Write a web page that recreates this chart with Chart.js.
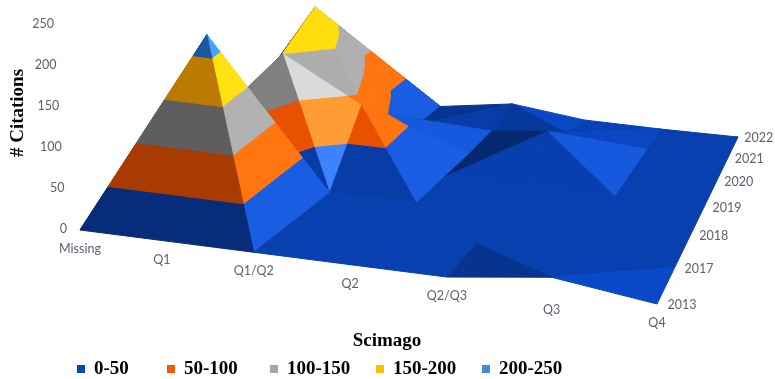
<!DOCTYPE html>
<html>
<head>
<meta charset="utf-8">
<title>Citations by Scimago quartile and year</title>
<script src="https://cdn.jsdelivr.net/npm/chart.js@4/dist/chart.umd.min.js"></script>
<style>
  html, body { margin: 0; background: #fff; }
  #wrap { width: 775px; height: 379px; }
</style>
</head>
<body>
<div id="wrap"><canvas id="surface"></canvas></div>
<script>
const categories = ['Missing', 'Q1', 'Q1/Q2', 'Q2', 'Q2/Q3', 'Q3', 'Q4'];
const years = ['2013', '2017', '2018', '2019', '2020', '2021', '2022'];
const citationTicks = [0, 50, 100, 150, 200, 250];
const bandLabels = ['0-50', '50-100', '100-150', '150-200', '200-250'];
const bandEdges = [0, 50, 100, 150, 200, 250];

// one row per year, one value per category
const row2013 = [0, 0, 0, 0, 0, 15, 0];
const row2017 = [0, 224, 0, 0, 0, 0, 0];
const row2018 = [0, 128, 0, 0, 0, 0, 0];
const row2019 = [0, 150, 88, 0, 0, 0, 0];
const row2020 = [0, 195, 45, 0, 45, 0, 0];
const row2021 = [0, 137, 0, 3, 12, 0, 0];
const row2022 = [0, 78, 0, 16, 2, 0, 0];
const citations = [row2013, row2017, row2018, row2019, row2020, row2021, row2022];

// legend and band colours
const bandRgb = [[8, 64, 176], [244, 85, 0], [135, 135, 135], [270, 175, 0], [40, 125, 225]];
const legendColors = ['#0b46b0', '#f05a00', '#a5a5a5', '#ffc000', '#3a8edc'];
const legendX = [81, 171, 274, 380, 486];

// floor of the plot in perspective: corners Missing/2013, Q4/2013, Q4/2022, Missing/2022
const corners = [[80, 230], [657, 304], [738, 137], [309, 93]];
const catSpacing = [0, 0.153, 0.32, 0.49, 0.656, 0.83, 1];
const unitPx = 0.82, zeroPx = 229;

// brightness of the few faces the light formula gets wrong, key is i,j,triangle
const shadeOverride = {
  '1,2,0': 1.55,
  '1,2,1': 0.95,
  '1,3,1': 1.25
};

function makeFloor() {
  const [a, b, c, d] = corners;
  const sx = a[0] - b[0] + c[0] - d[0], sy = a[1] - b[1] + c[1] - d[1];
  const x1 = b[0] - c[0], y1 = b[1] - c[1], x2 = d[0] - c[0], y2 = d[1] - c[1];
  const det = x1 * y2 - y1 * x2;
  const g = (sx * y2 - sy * x2) / det, h = (x1 * sy - y1 * sx) / det;
  return function(u, v) {
    const w = g * u + h * v + 1;
    return {
      x: ((b[0] - a[0] + g * b[0]) * u + (d[0] - a[0] + h * d[0]) * v + a[0]) / w,
      y: ((b[1] - a[1] + g * b[1]) * u + (d[1] - a[1] + h * d[1]) * v + a[1]) / w,
      w: w
    };
  };
}
const floor = makeFloor();

function project(i, j, z) {
  const p = floor(catSpacing[i], j / (years.length - 1));
  // back to pixel rows, the y scale below is in citation units
  return { x: p.x, y: p.y - z * unitPx / p.w, z: z, i: i, j: j };
}

function lerp(p, q, t) {
  return { x: p.x + (q.x - p.x) * t, y: p.y + (q.y - p.y) * t, z: p.z + (q.z - p.z) * t };
}

function clipBand(tri, lo, hi) {
  let poly = tri;
  [[lo, 1], [hi, -1]].forEach(function(edge) {
    const out = [];
    poly.forEach(function(p, n) {
      const q = poly[(n + 1) % poly.length];
      const dp = (p.z - edge[0]) * edge[1], dq = (q.z - edge[0]) * edge[1];
      if (dp >= 0) out.push(p);
      if ((dp > 0 && dq < 0) || (dp < 0 && dq > 0)) out.push(lerp(p, q, dp / (dp - dq)));
    });
    poly = out;
  });
  return poly;
}

function brightness(tri, key) {
  if (shadeOverride[key] !== undefined) return shadeOverride[key];
  const [p, q, r] = tri;
  const a1 = q.i - p.i, b1 = q.j - p.j, c1 = q.z - p.z;
  const a2 = r.i - p.i, b2 = r.j - p.j, c2 = r.z - p.z;
  const det = a1 * b2 - a2 * b1;
  const gx = (c1 * b2 - c2 * b1) / det, gy = (a1 * c2 - a2 * c1) / det;
  // faces turned to the right catch the light, faces turned left or to the front lose it
  const side = Math.tanh(-gx / 30) * (gx < 0 ? 0.28 : 0.4);
  return 1 + side - 0.3 * Math.pow(gy / 222, 2);
}

function shadeColor(rgb, m) {
  const mix = Math.max(0, (m - 1.15) * 0.5);
  const c = rgb.map(function(v) {
    const lit = Math.min(255, v * m);
    return Math.round(lit + (255 - lit) * mix);
  });
  return 'rgb(' + c.join(',') + ')';
}

// back rows first, so nearer faces paint over them
const faces = [];
for (let j = years.length - 2; j >= 0; j--) {
  for (let i = 0; i < categories.length - 1; i++) {
    const a = project(i, j, citations[j][i]), b = project(i + 1, j, citations[j][i + 1]);
    const c = project(i, j + 1, citations[j + 1][i]), d = project(i + 1, j + 1, citations[j + 1][i + 1]);
    const tris = Math.abs(a.z - d.z) >= Math.abs(b.z - c.z) ? [[a, d, c], [a, b, d]] : [[b, d, c], [a, b, c]];
    tris.forEach(function(tri, t) {
      const m = brightness(tri, i + ',' + j + ',' + t);
      bandLabels.forEach(function(label, n) {
        const poly = clipBand(tri, bandEdges[n], bandEdges[n + 1]);
        if (poly.length > 2) faces.push({ poly: poly, color: shadeColor(bandRgb[n], m) });
      });
    });
  }
}

// chart.js paints the last dataset first
const datasets = faces.map(function(face, n) {
  const pts = face.poly.map(function(p) { return { x: p.x, y: (zeroPx - p.y) / unitPx }; });
  pts.push(pts[0]);
  return {
    data: pts,
    showLine: true,
    fill: 'shape',
    backgroundColor: face.color,
    borderColor: face.color,
    borderWidth: 1,
    pointRadius: 0,
    order: faces.length - n
  };
});

const labelColor = '#5b6173';
const labelFont = '12.5px Lato, "Open Sans", sans-serif';

const axisText = {
  id: 'axisText',
  afterDatasetsDraw(chart) {
    const { ctx, scales } = chart;
    ctx.save();
    ctx.fillStyle = labelColor;
    ctx.font = labelFont;
    ctx.textBaseline = 'middle';
    ctx.textAlign = 'right';
    citationTicks.forEach(function(v) {
      ctx.fillText(String(v), 67 - v * 0.052, scales.y.getPixelForValue(v));
    });
    ctx.textAlign = 'center';
    categories.forEach(function(name, i) {
      const p = floor(catSpacing[i], 0);
      ctx.fillText(name, p.x, p.y + 19);
    });
    years.forEach(function(year, j) {
      const p = floor(1, j / (years.length - 1));
      ctx.fillText(year, p.x + 25 - j * 0.7, p.y + 1);
    });

    ctx.fillStyle = '#000';
    ctx.font = 'bold 19px "Liberation Serif", serif';
    ctx.fillText('Scimago', 387, 341);
    ctx.save();
    ctx.translate(18, 113);
    ctx.rotate(-Math.PI / 2);
    ctx.fillText('# Citations', 0, 0);
    ctx.restore();

    ctx.textAlign = 'left';
    bandLabels.forEach(function(label, n) {
      ctx.fillStyle = legendColors[n];
      ctx.fillRect(legendX[n] - 4, 365, 8, 8);
      ctx.fillStyle = '#000';
      ctx.fillText(label, legendX[n] + 13, 369);
    });
    ctx.restore();
  }
};

new Chart(document.getElementById('surface'), {
  type: 'scatter',
  data: { datasets: datasets },
  options: {
    responsive: true,
    maintainAspectRatio: false,
    animation: false,
    events: [],
    layout: { padding: 0 },
    plugins: { legend: { display: false }, tooltip: { enabled: false } },
    scales: {
      x: { type: 'linear', display: false, min: 0, max: 775 },
      y: { type: 'linear', display: false, min: (zeroPx - 379) / unitPx, max: zeroPx / unitPx }
    }
  },
  plugins: [axisText]
});
</script>
</body>
</html>
